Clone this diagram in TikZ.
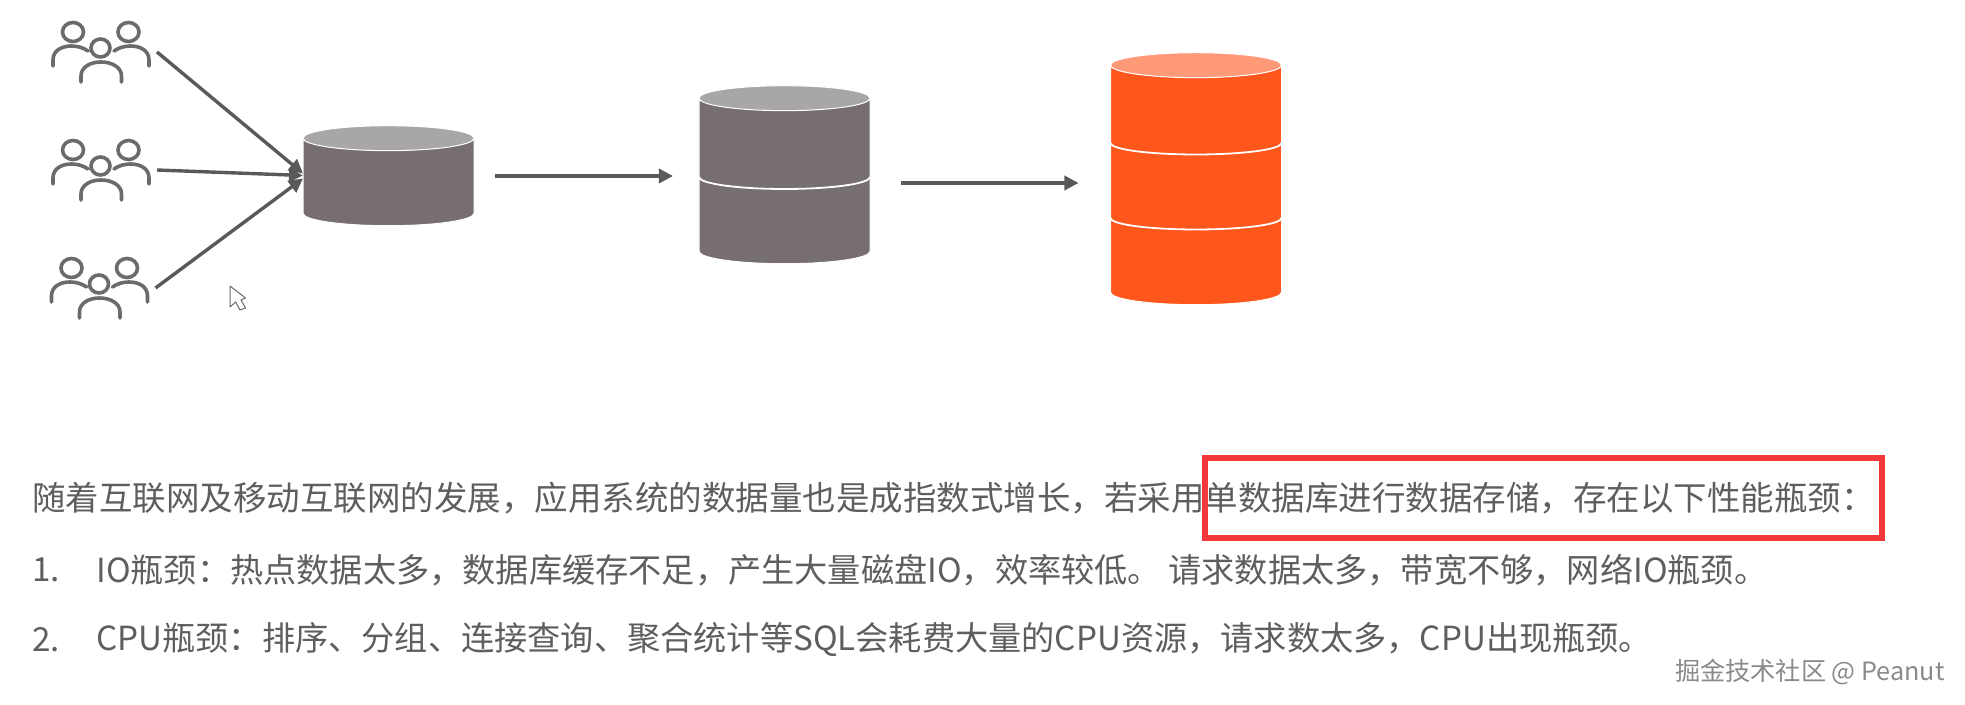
\documentclass[tikz,border=0pt]{standalone}
\usepackage{fontspec}
\setmainfont{Noto Sans CJK SC}
\usetikzlibrary{arrows.meta, calc, shapes.geometric}
\definecolor{InkGray}{HTML}{595959}
\definecolor{TextGray}{HTML}{5E5E5E}
\definecolor{IconGray}{HTML}{6B6B6B}
\definecolor{MarkGray}{HTML}{8A8A8A}
\definecolor{DbGray}{HTML}{766E73}
\definecolor{DbGrayTop}{HTML}{A9A6A9}
\definecolor{DbOrange}{HTML}{FF561C}
\definecolor{DbOrangeTop}{HTML}{FF9A78}
\definecolor{FrameRed}{HTML}{F4383A}
\newcommand{\zc}{\char"FF0C\relax}
\newcommand{\zm}{\char"FF1A\relax}
\tikzset{
  dbgray/.style={cylinder, shape border rotate=90, aspect=2.08, inner sep=3pt, draw=white, line width=0.5pt, cylinder uses custom fill, cylinder body fill=DbGray, cylinder end fill=DbGrayTop, minimum width=85.5pt, outer sep=0pt},
  dborange/.style={dbgray, cylinder body fill=DbOrange, cylinder end fill=DbOrangeTop},
  dbline/.style={draw=white, line width=0.9pt},
  crowd/.style={minimum width=56.5pt, minimum height=30pt, inner sep=0pt, outer sep=0pt},
  arrow/.style={-{Triangle[length=7pt, width=7pt]}, line width=1.7pt, draw=InkGray},
  bodytext/.style={font=\fontsize{16.6pt}{20pt}\selectfont, text=TextGray, anchor=west, inner sep=0pt},
  users/.pic={
    \draw[IconGray, line width=1.8pt, line cap=round]
      (-27.5,-20) ellipse[x radius=10.5, y radius=9.5]
      (28,-20) ellipse[x radius=10.5, y radius=9.5]
      (0,-4) ellipse[x radius=9.5, y radius=9]
      (-47.5,14) -- (-47.5,8) .. controls (-47.5,-2) and (-38,-6) .. (-29,-6) .. controls (-22,-6) and (-17,-4) .. (-12.5,-1)
      (48.5,14) -- (48.5,8) .. controls (48.5,-2) and (39,-6) .. (30,-6) .. controls (23,-6) and (18,-4) .. (13.5,-1)
      (-19.5,30) -- (-19.5,24) .. controls (-19.5,15) and (-10,10) .. (0.5,10) .. controls (11,10) and (21,15) .. (21,24) -- (21,30);
  }
}
\begin{document}
\begin{tikzpicture}[x=0.5pt, y=-0.5pt]
\useasboundingbox (0,0) rectangle (1965,705);
% users
\node[crowd] (u1) at (100.5,52) {};
\node[crowd] (u2) at (100.5,170) {};
\node[crowd] (u3) at (99,288) {};
\pic at (u1) {users};
\pic at (u2) {users};
\pic at (u3) {users};
% databases
\node[dbgray, minimum height=50pt] (db1) at (388.5,184.5) {};
\node[dbgray, minimum height=89pt] (db2) at (784.5,183.5) {};
\node[dborange, minimum height=126pt] (db3) at (1196,187.5) {};
\draw[dbline] (db2.west) ++(0,-6.5) arc[start angle=180, end angle=0, x radius=85.5, y radius=12];
\draw[dbline] (db3.west) ++(0,-44.5) arc[start angle=180, end angle=0, x radius=85.5, y radius=11.5];
\draw[dbline] (db3.west) ++(0,30.5) arc[start angle=180, end angle=0, x radius=85.5, y radius=11.5];
% arrows
\draw[arrow] (u1.east) -- ($(db1.west)+(0,-11)$);
\draw[arrow] (u2.east) -- ($(db1.west)+(0,-9)$);
\draw[arrow] (u3.east) -- ($(db1.west)+(0,-6)$);
\draw[arrow, shorten <=10.5pt, shorten >=13pt] ($(db1.east)+(0,-8.5)$) -- ($(db2.west)+(0,-7.5)$);
\draw[arrow, shorten <=15.5pt, shorten >=16pt] ($(db2.east)+(0,-0.5)$) -- ($(db3.west)+(0,-4.5)$);
% cursor
\draw[IconGray, fill=white, line width=0.5pt, line join=round] (230,286) -- (230,307) -- (235.7,302) -- (240,310) -- (245.5,308) -- (241,300) -- (245.5,298) -- cycle;
% text
\node[bodytext, font=\fontsize{16.75pt}{20pt}\selectfont] (intro) at (32,498) {随着互联网及移动互联网的发展\zc 应用系统的数据量也是成指数式增长\zc 若采用单数据库进行数据存储\zc 存在以下性能瓶颈\zm};
\node[bodytext] (num1) at (32,570) {1.};
\node[bodytext] (item1) at (96,570) {IO瓶颈\zm 热点数据太多\zc 数据库缓存不足\zc 产生大量磁盘IO\zc 效率较低。 请求数据太多\zc 带宽不够\zc 网络IO瓶颈。};
\node[bodytext] (num2) at (32,640) {2.};
\node[bodytext] (item2) at (96,640) {CPU瓶颈\zm 排序、分组、连接查询、聚合统计等SQL会耗费大量的CPU资源\zc 请求数太多\zc CPU出现瓶颈。};
\node[draw=FrameRed, line width=3pt, minimum width=338.5pt, minimum height=40pt, inner sep=0pt, outer sep=0pt] (frame) at (1543.5,498) {};
\node[font=\fontsize{12.6pt}{15pt}\selectfont, text=MarkGray, anchor=east, inner sep=0pt] (mark) at (1945,672) {掘金技术社区 @ Peanut};
\end{tikzpicture}
\end{document}
